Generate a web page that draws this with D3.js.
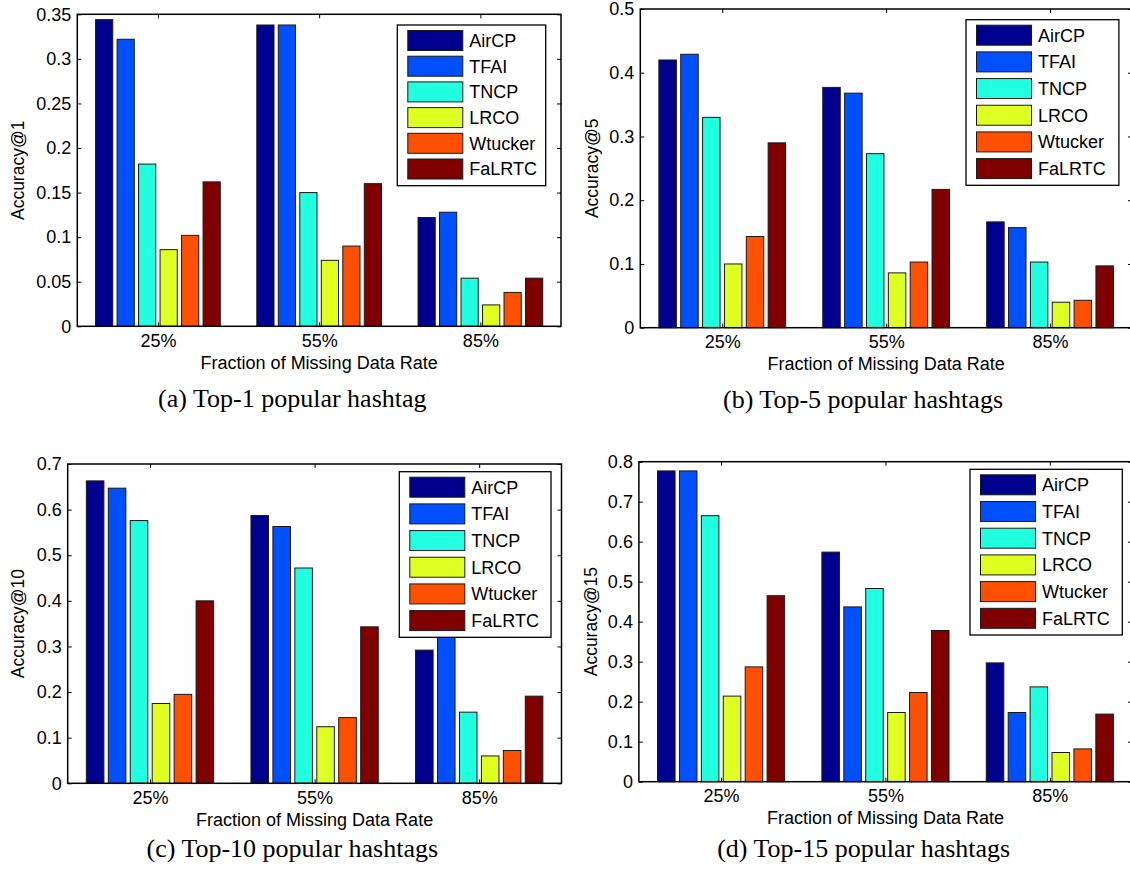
<!DOCTYPE html>
<html>
<head>
<meta charset="utf-8">
<script src="https://cdn.jsdelivr.net/npm/d3@7"></script>
<style>
body { margin: 0; background: #fff; }
svg { display: block; }
</style>
</head>
<body>
<svg width="1130" height="874"></svg>
<script>
const methods = ["AirCP", "TFAI", "TNCP", "LRCO", "Wtucker", "FaLRTC"];
const rates = ["25%", "55%", "85%"];
const colors = ["#00008f", "#0050ff", "#20ffdf", "#dfff20", "#ff5000", "#800000"];

// one row per missing rate, one value per method
const acc1 = [
    [0.344, 0.322, 0.182, 0.086, 0.102, 0.162],
    [0.338, 0.338, 0.150, 0.074, 0.090, 0.160],
    [0.122, 0.128, 0.054, 0.024, 0.038, 0.054]
];
const acc5 = [
    [0.420, 0.429, 0.330, 0.100, 0.143, 0.290],
    [0.377, 0.368, 0.273, 0.086, 0.103, 0.217],
    [0.166, 0.157, 0.103, 0.040, 0.043, 0.097]
];
const acc10 = [
    [0.663, 0.647, 0.576, 0.175, 0.195, 0.400],
    [0.587, 0.563, 0.472, 0.124, 0.144, 0.343],
    [0.292, 0.335, 0.156, 0.060, 0.072, 0.191]
];
const acc15 = [
    [0.777, 0.777, 0.665, 0.214, 0.287, 0.465],
    [0.574, 0.437, 0.483, 0.173, 0.223, 0.378],
    [0.297, 0.173, 0.237, 0.073, 0.082, 0.169]
];

const ticks1 = [0, 0.05, 0.1, 0.15, 0.2, 0.25, 0.3, 0.35];
const ticks5 = [0, 0.1, 0.2, 0.3, 0.4, 0.5];
const ticks10 = [0, 0.1, 0.2, 0.3, 0.4, 0.5, 0.6, 0.7];
const ticks15 = [0, 0.1, 0.2, 0.3, 0.4, 0.5, 0.6, 0.7, 0.8];

const yLabels = ["Accuracy@1", "Accuracy@5", "Accuracy@10", "Accuracy@15"];
const xLabel = "Fraction of Missing Data Rate";
const captions = ["(a) Top-1 popular hashtag", "(b) Top-5 popular hashtags",
                  "(c) Top-10 popular hashtags", "(d) Top-15 popular hashtags"];

const sans = "'Liberation Sans', Arial, Helvetica, sans-serif";
const serif = "'Liberation Serif', 'Times New Roman', serif";

const panels = [
    {vals: acc1, ticks: ticks1, ylabel: yLabels[0], caption: captions[0],
     left: 77.3, right: 561, top: 14.3, bottom: 326.3, ylabX: 18,
     legend: {x: 397.3, y: 25, w: 148.4, h: 160.7}, capX: 292.3, capY: 407},
    {vals: acc5, ticks: ticks5, ylabel: yLabels[1], caption: captions[1],
     left: 640.3, right: 1132, top: 9, bottom: 327.7, ylabX: 592,
     legend: {x: 966, y: 19.7, w: 152.9, h: 165.6}, capX: 863, capY: 408},
    {vals: acc10, ticks: ticks10, ylabel: yLabels[2], caption: captions[2],
     left: 67.7, right: 561.5, top: 464, bottom: 783.3, ylabX: 18,
     legend: {x: 399.3, y: 471.7, w: 151.7, h: 165.6}, capX: 292.3, capY: 857},
    {vals: acc15, ticks: ticks15, ylabel: yLabels[3], caption: captions[3],
     left: 638.9, right: 1132, top: 461.7, bottom: 781.7, ylabX: 590.2,
     legend: {x: 970, y: 469.3, w: 152.3, h: 165.7}, capX: 863.7, capY: 857}
];

function fmt(t) {
    return String(+t.toFixed(2));
}

function drawPanel(p) {
    const g = d3.select("svg").append("g");
    const x = d3.scaleLinear().domain([0.5, 3.5]).range([p.left, p.right]);
    const y = d3.scaleLinear().domain([0, p.ticks[p.ticks.length - 1]]).range([p.bottom, p.top]);

    //grouped bars, matlab style: group is 0.8 wide, bar is 0.8 of its slot
    const slot = 0.8 / methods.length;
    const bw = slot * 0.8;
    p.vals.forEach((row, i) => {
        row.forEach((v, j) => {
            const c = i + 1 + (j - (methods.length - 1) / 2) * slot;
            g.append("rect")
                .attr("x", x(c - bw / 2))
                .attr("width", x(c + bw / 2) - x(c - bw / 2))
                .attr("y", y(v))
                .attr("height", y(0) - y(v))
                .attr("fill", colors[j])
                .attr("stroke", "#1a1a1a")
                .attr("stroke-width", 1);
        });
    });

    //axes with inward ticks
    const noDomain = s => s.select(".domain").remove();
    g.append("g").attr("transform", `translate(${p.left},0)`)
        .call(d3.axisLeft(y).tickValues(p.ticks).tickFormat(fmt).tickSizeInner(-4).tickSizeOuter(0).tickPadding(6))
        .call(noDomain);
    g.append("g").attr("transform", `translate(${p.right},0)`)
        .call(d3.axisRight(y).tickValues(p.ticks).tickFormat("").tickSizeInner(-4).tickSizeOuter(0))
        .call(noDomain);
    g.append("g").attr("transform", `translate(0,${p.bottom})`)
        .call(d3.axisBottom(x).tickValues([1, 2, 3]).tickFormat(d => rates[d - 1]).tickSizeInner(-4).tickSizeOuter(0).tickPadding(7.8))
        .call(noDomain);
    g.append("g").attr("transform", `translate(0,${p.top})`)
        .call(d3.axisTop(x).tickValues([1, 2, 3]).tickFormat("").tickSizeInner(-4).tickSizeOuter(0))
        .call(noDomain);
    g.selectAll(".tick text").attr("font-family", sans).attr("font-size", 18).attr("fill", "#000");
    g.selectAll(".tick line").attr("stroke", "#000");

    //box
    g.append("rect")
        .attr("x", p.left)
        .attr("y", p.top)
        .attr("width", p.right - p.left)
        .attr("height", p.bottom - p.top)
        .attr("fill", "none")
        .attr("stroke", "#000")
        .attr("stroke-width", 1.5);

    //labels
    g.append("text")
        .attr("x", (p.left + p.right) / 2)
        .attr("y", p.bottom + 42.7)
        .attr("text-anchor", "middle")
        .attr("font-family", sans)
        .attr("font-size", 18)
        .text(xLabel);
    g.append("text")
        .attr("transform", `translate(${p.ylabX + 6.3},${(p.top + p.bottom) / 2}) rotate(-90)`)
        .attr("text-anchor", "middle")
        .attr("font-family", sans)
        .attr("font-size", 17.5)
        .text(p.ylabel);
    g.append("text")
        .attr("x", p.capX)
        .attr("y", p.capY)
        .attr("text-anchor", "middle")
        .attr("font-family", serif)
        .attr("font-size", 26)
        .text(p.caption);

    //legend
    const L = p.legend;
    const pitch = (L.h - 32.2) / 5;
    g.append("rect")
        .attr("x", L.x)
        .attr("y", L.y)
        .attr("width", L.w)
        .attr("height", L.h)
        .attr("fill", "#fff")
        .attr("stroke", "#000")
        .attr("stroke-width", 1.3);
    methods.forEach((m, j) => {
        const sy = L.y + 5.5 + j * pitch;
        g.append("rect")
            .attr("x", L.x + 10.5)
            .attr("y", sy)
            .attr("width", 55)
            .attr("height", 20)
            .attr("fill", colors[j])
            .attr("stroke", "#1a1a1a")
            .attr("stroke-width", 1);
        g.append("text")
            .attr("x", L.x + 72)
            .attr("y", sy + 10)
            .attr("dy", "0.36em")
            .attr("font-family", sans)
            .attr("font-size", 18)
            .text(m);
    });
}

panels.forEach(drawPanel);
</script>
</body>
</html>
